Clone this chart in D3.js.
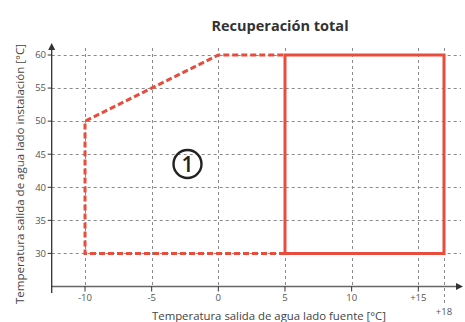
<!DOCTYPE html>
<html>
<head>
<meta charset="utf-8">
<script src="https://cdn.jsdelivr.net/npm/d3@7"></script>
<style>
  html, body { margin: 0; padding: 0; background: #fff; }
  svg { display: block; font-family: "Open Sans", "DejaVu Sans", sans-serif; }
</style>
</head>
<body>
<svg id="chart" width="465" height="322"></svg>
<script>
// Source-side water outlet temperature ticks (°C)
const xTicks = [-10, -5, 0, 5, 10, 15, 18];
const xTickLabels = ["-10", "-5", "0", "5", "10", "+15", "+18"];
// Installation-side water outlet temperature ticks (°C)
const yTicks = [30, 35, 40, 45, 50, 55, 60];

// Extended operating range (dashed outline)
const extendedX = [5, -10, -10, 0, 5];
const extendedY = [30, 30, 50, 60, 60];
// Standard operating range (solid outline)
const standardX = [5, 18, 18, 5, 5];
const standardY = [30, 30, 60, 60, 30];

const title = "Recuperación total";
const xTitle = "Temperatura salida de agua lado fuente [°C]";
const yTitle = "Temperatura salida de agua lado instalación [°C]";
const zoneLabel = "1";

const red = "#e84c3d";
const svg = d3.select("#chart");

// x axis is compressed beyond +15 so that +18 sits just inside the frame
const x = d3.scaleLinear().domain([-12.5, 15, 18]).range([51.7, 418.3, 444]);
const y = d3.scaleLinear().domain([25, 60]).range([286.5, 55]);

const x0 = x(-12.5), yBase = y(25);

// grid
const grid = svg.append("g").attr("stroke", "#8a8a8a").attr("stroke-width", 1)
  .attr("stroke-dasharray", "3,3");
grid.selectAll("line.h").data(yTicks).join("line")
  .attr("x1", x0).attr("x2", 461)
  .attr("y1", d => Math.round(y(d)) + 0.5).attr("y2", d => Math.round(y(d)) + 0.5);
grid.selectAll("line.v").data(xTicks).join("line")
  .attr("x1", d => Math.round(x(d)) + 0.5).attr("x2", d => Math.round(x(d)) + 0.5)
  .attr("y1", 48).attr("y2", d => d === 18 ? 305 : yBase);

// axes
const axisG = svg.append("g");
axisG.append("line").attr("x1", x0).attr("x2", 458).attr("y1", yBase).attr("y2", yBase)
  .attr("stroke", "#666").attr("stroke-width", 1.3);
axisG.append("path").attr("d", `M463,${yBase} L456,${yBase - 3.5} L456,${yBase + 3.5} Z`).attr("fill", "#333");
axisG.append("line").attr("x1", x0).attr("x2", x0).attr("y1", 293).attr("y2", 49)
  .attr("stroke", "#333").attr("stroke-width", 1.3);
axisG.append("path").attr("d", `M${x0},43 L${x0 - 3.5},50 L${x0 + 3.5},50 Z`).attr("fill", "#333");

// y ticks
axisG.selectAll("line.yt").data(yTicks).join("line")
  .attr("x1", x0 - 4).attr("x2", x0).attr("y1", d => y(d)).attr("y2", d => y(d))
  .attr("stroke", "#333").attr("stroke-width", 1);
axisG.selectAll("text.yl").data(yTicks).join("text")
  .attr("x", 46).attr("y", d => y(d)).attr("dy", "0.35em")
  .attr("text-anchor", "end").attr("font-size", 9.5).attr("fill", "#555")
  .text(d => d);

// x ticks
axisG.selectAll("line.xt").data(xTicks.filter(d => d !== 18)).join("line")
  .attr("x1", d => x(d)).attr("x2", d => x(d)).attr("y1", yBase).attr("y2", yBase + 5)
  .attr("stroke", "#333").attr("stroke-width", 1);
axisG.selectAll("text.xl").data(xTicks).join("text")
  .attr("x", d => x(d)).attr("y", d => d === 18 ? 314.5 : 300.5)
  .attr("text-anchor", "middle").attr("font-size", 9.5).attr("fill", "#555")
  .text((d, i) => xTickLabels[i]);

// operating envelopes
const line = d3.line().x(d => x(d[0])).y(d => y(d[1]));
svg.append("path")
  .attr("d", line(extendedX.map((v, i) => [v, extendedY[i]])))
  .attr("fill", "none").attr("stroke", red).attr("stroke-width", 3)
  .attr("stroke-dasharray", "6,3");
svg.append("path")
  .attr("d", line(standardX.map((v, i) => [v, standardY[i]])) + "Z")
  .attr("fill", "none").attr("stroke", red).attr("stroke-width", 3);

// zone marker
svg.append("circle").attr("cx", 187.5).attr("cy", 164).attr("r", 14)
  .attr("fill", "none").attr("stroke", "#222").attr("stroke-width", 2.4);
svg.append("text").attr("x", 187.5).attr("y", 164).attr("dy", "0.36em")
  .attr("text-anchor", "middle").attr("font-size", 21).attr("font-weight", 600)
  .attr("fill", "#222")
  .text(zoneLabel);

// titles
svg.append("text").attr("x", 280).attr("y", 31).attr("text-anchor", "middle")
  .attr("font-size", 14.5).attr("font-weight", "bold").attr("fill", "#333")
  .text(title);
svg.append("text").attr("x", 269).attr("y", 320).attr("text-anchor", "middle")
  .attr("font-size", 11).attr("fill", "#444")
  .attr("textLength", 234).attr("lengthAdjust", "spacingAndGlyphs")
  .text(xTitle);
svg.append("text").attr("transform", "translate(24,174) rotate(-90)")
  .attr("text-anchor", "middle").attr("font-size", 11).attr("fill", "#444")
  .attr("textLength", 260).attr("lengthAdjust", "spacingAndGlyphs")
  .text(yTitle);
</script>
</body>
</html>
